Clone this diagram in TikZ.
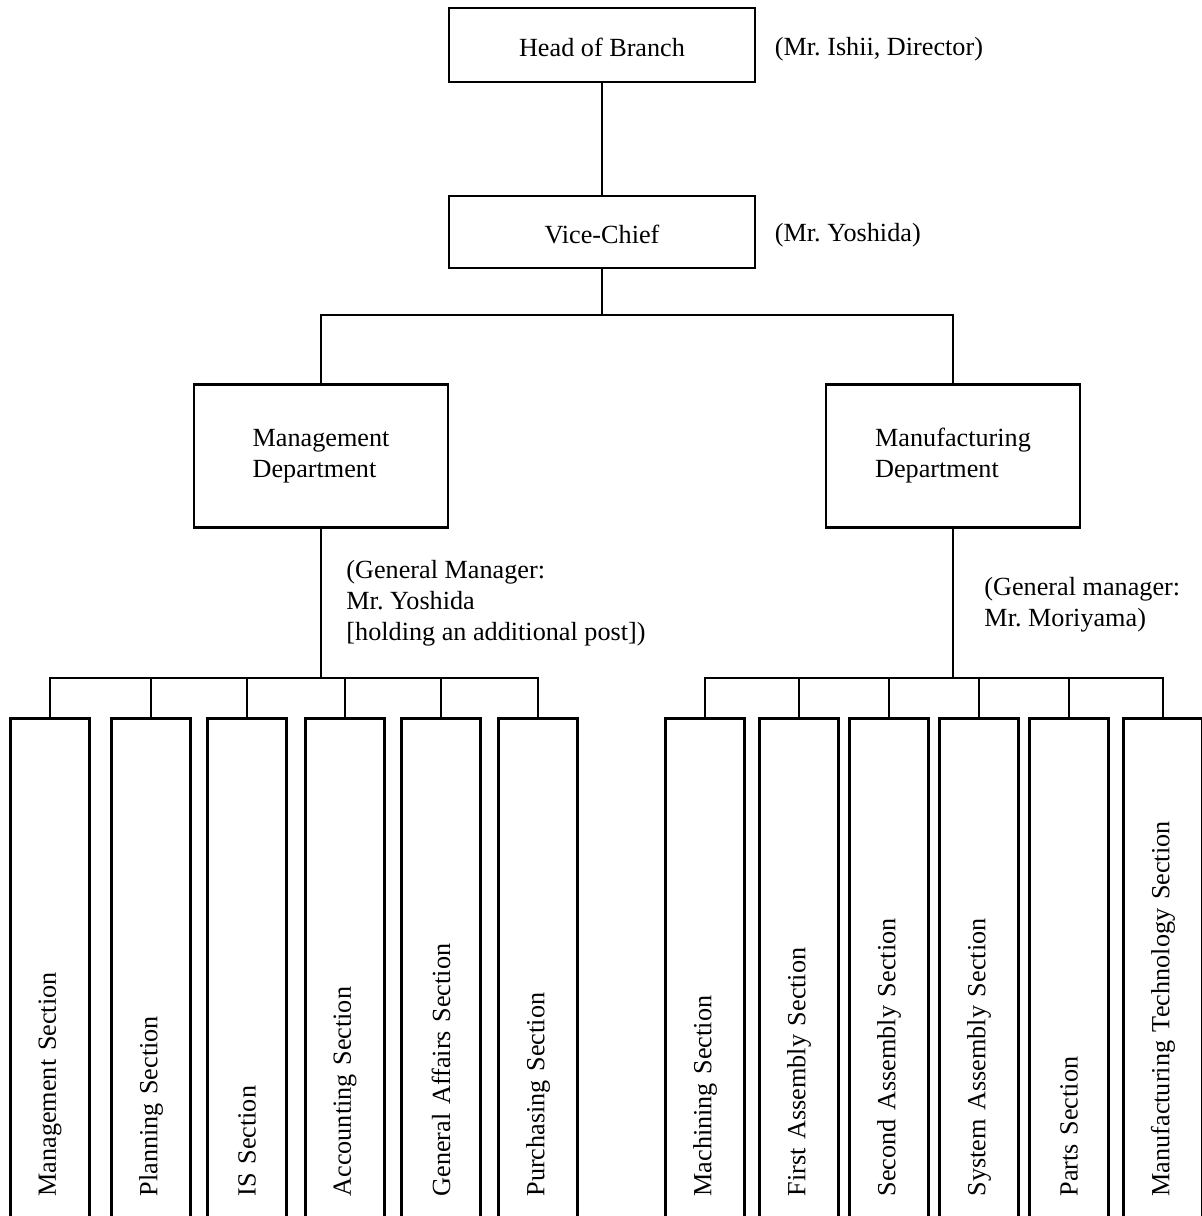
\documentclass[tikz,border=0pt]{standalone}
\usepackage{fontspec}
\setmainfont{Liberation Serif}
\usetikzlibrary{positioning}
\frenchspacing
\begin{document}
\begin{tikzpicture}[x=0.5pt, y=-0.5pt, line width=1.45pt,
    font=\fontsize{13.1}{15.5}\selectfont,
    unit/.style={draw, rectangle, inner sep=0pt, minimum width=153pt, text height=11pt, text depth=0pt},
    dept/.style={draw, rectangle, inner sep=0pt, minimum width=127pt, minimum height=71.5pt, align=left},
    section/.style={draw, rectangle, rotate=90, anchor=east, inner xsep=21pt, inner ysep=0pt,
      text width=218pt, align=left, minimum height=39.5pt},
    note/.style={inner sep=0pt, align=left, anchor=west}]
  \useasboundingbox (0,0) rectangle (1202,1216);

  % top of the branch
  \node[unit, minimum height=37pt] (head) at (602,45) {Head of Branch};
  \node[unit, minimum height=36pt] (vice) at (602,232) {Vice-Chief};
  \node[note, right=8.5pt of head, yshift=-2pt] (headname) {(Mr. Ishii, Director)};
  \node[note, right=8.5pt of vice, yshift=-1.5pt] (vicename) {(Mr. Yoshida)};

  % departments
  \node[dept] (mgmt) at (321,456) {Management\\Department};
  \node[dept] (manuf) at (953,456) {Manufacturing\\Department};
  \node[note] (mgmtname) at (345,603) {(General Manager:\\Mr. Yoshida\\{[holding an additional post]})};
  \node[note] (manufname) at (983,605) {(General manager:\\Mr. Moriyama)};

  % sections
  \node[section] (ms1) at (50,717) {Management Section};
  \node[section] (ms2) at (151,717) {Planning Section};
  \node[section] (ms3) at (247,717) {IS Section};
  \node[section] (ms4) at (345,717) {Accounting Section};
  \node[section] (ms5) at (441,717) {General Affairs Section};
  \node[section] (ms6) at (538,717) {Purchasing Section};

  \node[section] (fs1) at (705,717) {Machining Section};
  \node[section] (fs2) at (799,717) {First Assembly Section};
  \node[section] (fs3) at (889,717) {Second Assembly Section};
  \node[section] (fs4) at (979,717) {System Assembly Section};
  \node[section] (fs5) at (1069,717) {Parts Section};
  \node[section] (fs6) at (1163,717) {Manufacturing Technology Section};

  % connectors
  \coordinate (topbus) at (602,315);
  \coordinate (mgmtbus) at (321,678);
  \coordinate (manufbus) at (953,678);

  \draw (head) -- (vice);
  \draw (vice.south) -- (topbus) -| (mgmt.north);
  \draw (topbus) -| (manuf.north);

  \draw (mgmt.south) -- (mgmtbus);
  \draw (mgmtbus) -| (ms1.east);
  \draw (mgmtbus) -| (ms2.east);
  \draw (mgmtbus) -| (ms3.east);
  \draw (mgmtbus) -| (ms4.east);
  \draw (mgmtbus) -| (ms5.east);
  \draw (mgmtbus) -| (ms6.east);

  \draw (manuf.south) -- (manufbus);
  \draw (manufbus) -| (fs1.east);
  \draw (manufbus) -| (fs2.east);
  \draw (manufbus) -| (fs3.east);
  \draw (manufbus) -| (fs4.east);
  \draw (manufbus) -| (fs5.east);
  \draw (manufbus) -| (fs6.east);
\end{tikzpicture}
\end{document}
